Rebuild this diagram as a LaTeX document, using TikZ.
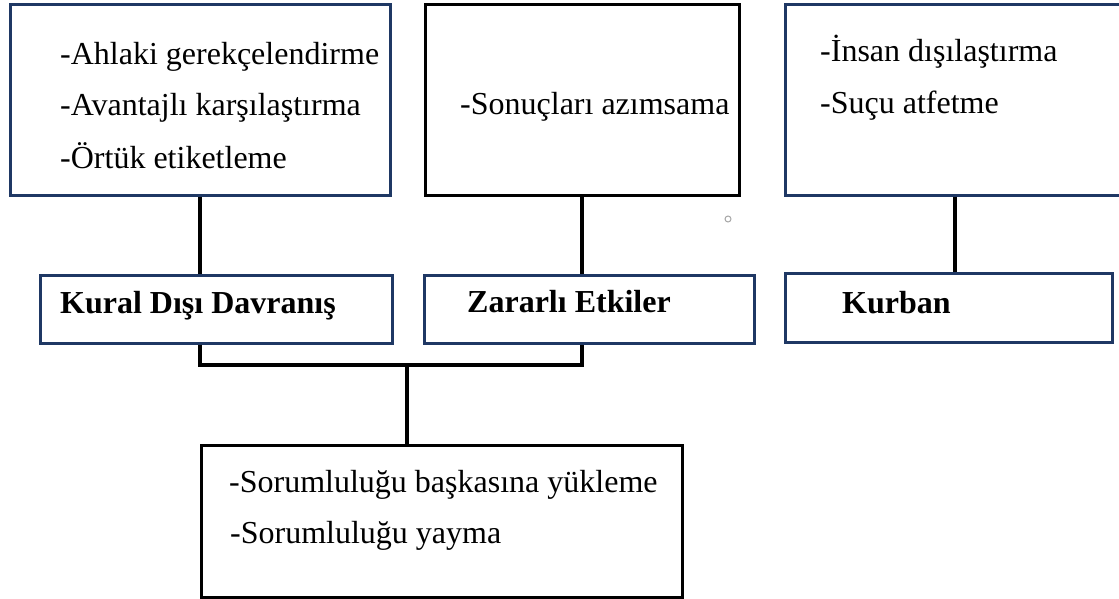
\documentclass[tikz,border=0pt]{standalone}
\usepackage{fontspec}
\setmainfont{Liberation Serif}
\usepackage{xcolor}
\definecolor{navy}{RGB}{31,56,100}
\tikzset{>=latex}

\begin{document}
\begin{tikzpicture}[x=1pt, y=-1pt,
    box/.style={draw=navy, line width=3pt, rectangle, inner sep=0pt},
    plainbox/.style={draw=black, line width=3pt, rectangle, inner sep=0pt},
    item/.style={anchor=base west, inner sep=0pt, font=\fontsize{32}{38}\selectfont},
    head/.style={item, font=\fontsize{32}{38}\selectfont\bfseries},
    link/.style={draw=black, line width=4pt}]
    \clip (0,0) rectangle (1119,599);

    % Boxes
    \node (A) [box, minimum width=380, minimum height=190] at (200,100) {};
    \node (B) [plainbox, minimum width=314, minimum height=190] at (582,100) {};
    \node (C) [box, minimum width=340, minimum height=190] at (955,100) {};
    \node (K) [box, minimum width=352, minimum height=68] at (216,309) {};
    \node (Z) [box, minimum width=330, minimum height=68] at (589,309) {};
    \node (U) [box, minimum width=327, minimum height=69] at (948.5,307.5) {};
    \node (S) [plainbox, minimum width=481, minimum height=152] at (441.5,521) {};
    \node (dot) [circle, draw=gray!70, line width=1pt, inner sep=0pt, minimum size=6] at (728,219) {};

    % Texts
    \node (a1) [item] at (60,65) {-Ahlaki gerekçelendirme};
    \node (a2) [item] at (60,116) {-Avantajlı karşılaştırma};
    \node (a3) [item] at (60,168) {-Örtük etiketleme};
    \node (b1) [item] at (460,115) {-Sonuçları azımsama};
    \node (c1) [item] at (820,62) {-İnsan dışılaştırma};
    \node (c2) [item] at (820,114) {-Suçu atfetme};
    \node (k1) [head] at (60,313) {Kural Dışı Davranış};
    \node (z1) [head] at (467,312) {Zararlı Etkiler};
    \node (u1) [head] at (842,313) {Kurban};
    \node (s1) [item] at (229,492) {-Sorumluluğu başkasına yükleme};
    \node (s2) [item] at (230,543) {-Sorumluluğu yayma};

    % Lines
    \coordinate (join) at (407,365);
    \draw[link] (A.south) -- (A.south |- K.north);
    \draw[link] (B.south) -- (B.south |- Z.north);
    \draw[link] (C.south) -- (C.south |- U.north);
    \draw[link] (A.south |- K.south) -- (A.south |- join) -- (B.south |- join) -- (B.south |- Z.south);
    \draw[link] (join) -- (join |- S.north);
\end{tikzpicture}
\end{document}
